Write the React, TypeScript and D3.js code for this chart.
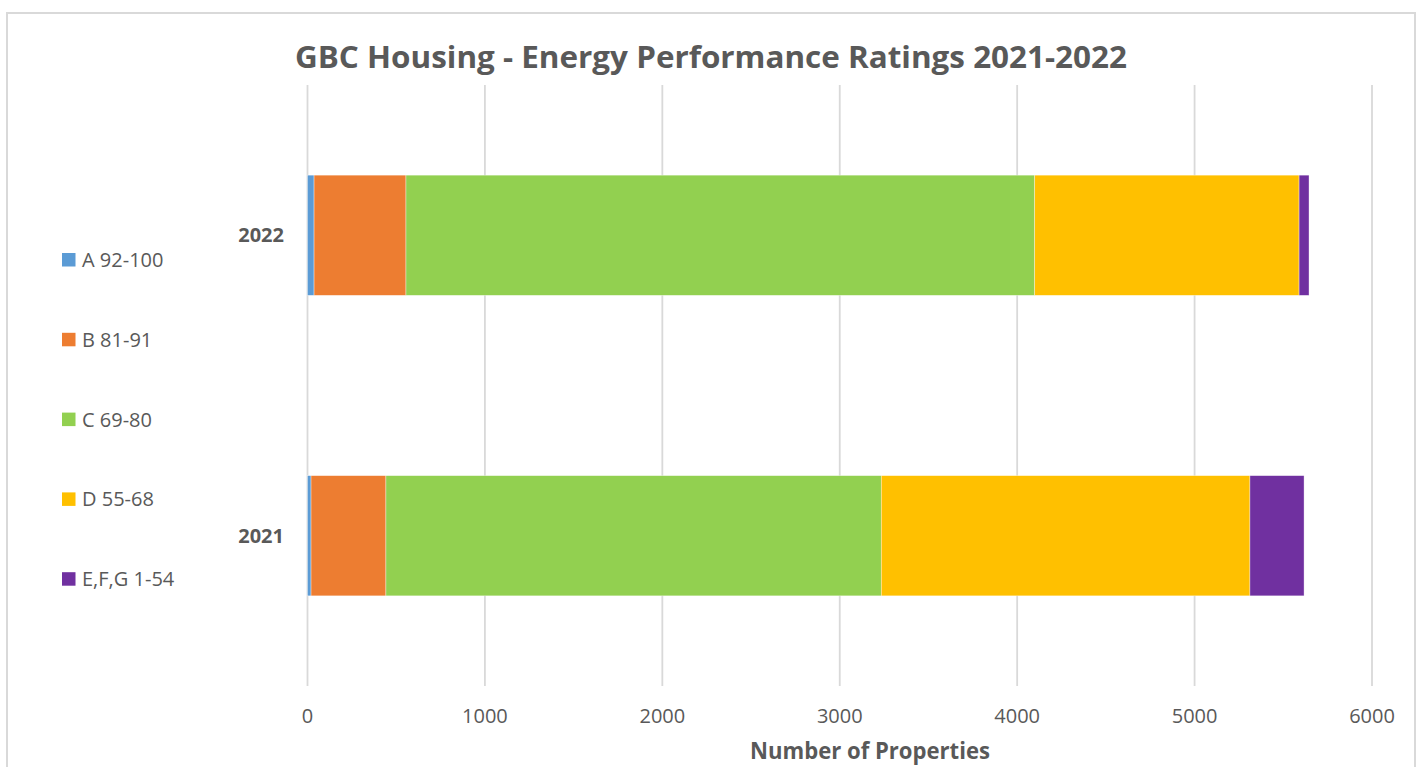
import React from "react";
import * as d3 from "d3";

const years = ["2022", "2021"];
const bands = ["A 92-100", "B 81-91", "C 69-80", "D 55-68", "E,F,G 1-54"];
const bandColors = ["#5B9BD5", "#ED7D31", "#92D050", "#FFC000", "#7030A0"];
// values per year, same order as bands
const values2022 = [37, 518, 3544, 1490, 56];
const values2021 = [20, 422, 2792, 2078, 305];
const xTicks = [0, 1000, 2000, 3000, 4000, 5000, 6000];

const W = 1420;
const H = 767;
const plot = { left: 307.5, right: 1372, top: 85, bottom: 686 };
const textColor = "#595959";
const font = "'Open Sans', 'Liberation Sans', sans-serif";

type Row = { year: string; [key: string]: number | string };

export default function App() {
    const rows: Row[] = years.map((year) => {
        const vals = year === "2022" ? values2022 : values2021;
        const row: Row = { year };
        bands.forEach((b, i) => { row[b] = vals[i]; });
        return row;
    });

    const series = d3.stack<Row, string>()
        .keys(bands)
        .value((d, key) => d[key] as number)(rows);

    const x = d3.scaleLinear().domain([0, 6000]).range([plot.left, plot.right]);
    const y = d3.scaleBand<string>()
        .domain(years)
        .range([plot.top, plot.bottom])
        .paddingInner(0.6)
        .paddingOuter(0.3);
    const color = d3.scaleOrdinal<string, string>().domain(bands).range(bandColors);

    const legendX = 62;
    const legendY0 = 260;
    const legendStep = 79.8;

    return (
        <svg width={W} height={H} style={{ position: "absolute", left: 0, top: 0 }} fontFamily={font}>
            <rect x={0} y={0} width={W} height={H} fill="#fff" />
            <rect x={7} y={13} width={1408} height={H + 20} fill="none" stroke="#d9d9d9" strokeWidth={2} />

            <text x={711} y={68} textAnchor="middle" fontSize={31} fontWeight={700} fill={textColor}
                textLength={832} lengthAdjust="spacingAndGlyphs">
                GBC Housing - Energy Performance Ratings 2021-2022
            </text>

            {xTicks.map((t) => (
                <line key={"g" + t} x1={x(t)} x2={x(t)} y1={plot.top} y2={plot.bottom}
                    stroke="#d9d9d9" strokeWidth={1.8} />
            ))}

            {series.map((s) => (
                <g key={s.key} fill={color(s.key)}>
                    {s.map((d) => (
                        <rect key={d.data.year as string}
                            x={x(d[0])}
                            y={y(d.data.year as string) ?? 0}
                            width={Math.max(0, x(d[1]) - x(d[0]))}
                            height={y.bandwidth()}
                            stroke="#fff" strokeWidth={0.6} strokeOpacity={0.6} />
                    ))}
                </g>
            ))}

            {years.map((yr) => (
                <text key={"c" + yr} x={284} y={(y(yr) ?? 0) + y.bandwidth() / 2 + 7}
                    textAnchor="end" fontSize={20} fontWeight={700} fill={textColor}>
                    {yr}
                </text>
            ))}

            {xTicks.map((t) => (
                <text key={"t" + t} x={x(t)} y={723} textAnchor="middle" fontSize={20} fill={textColor}>
                    {t}
                </text>
            ))}

            <text x={870} y={759} textAnchor="middle" fontSize={23} fontWeight={700} fill={textColor}
                textLength={240} lengthAdjust="spacingAndGlyphs">
                Number of Properties
            </text>

            {bands.map((b, i) => (
                <g key={"l" + b} transform={`translate(${legendX},${legendY0 + i * legendStep})`}>
                    <rect x={0} y={-7} width={13.5} height={13.5} fill={color(b)} />
                    <text x={20} y={7} fontSize={20} fill={textColor}>{b}</text>
                </g>
            ))}
        </svg>
    );
}
